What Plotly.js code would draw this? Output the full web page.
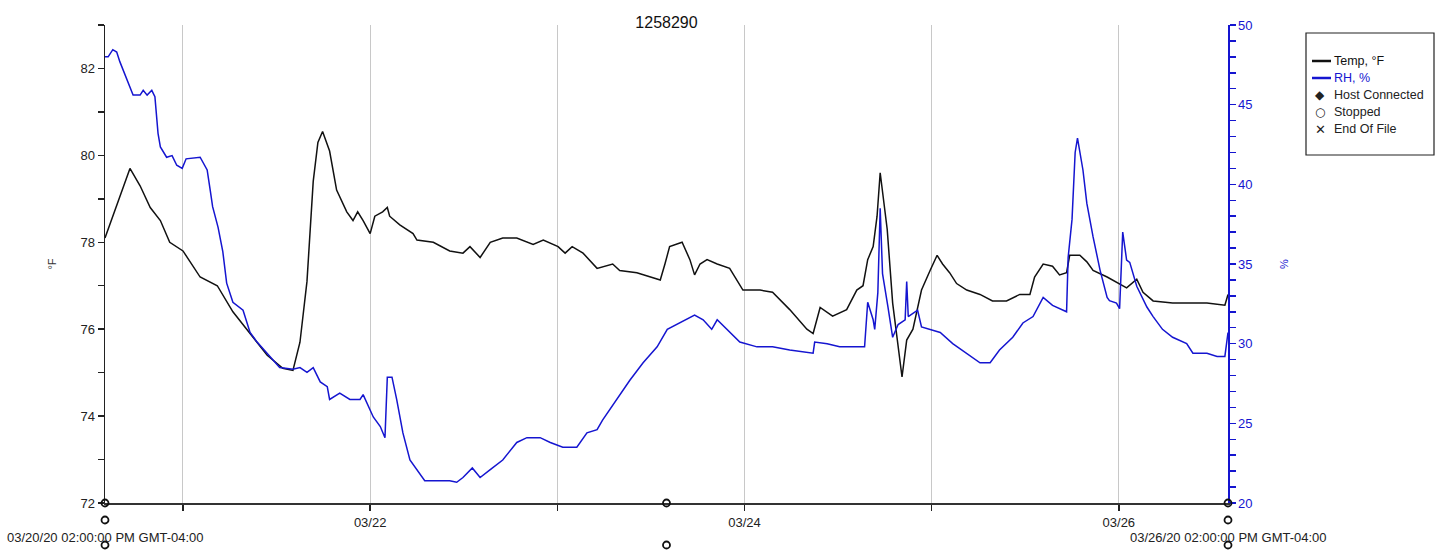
<!DOCTYPE html>
<html>
<head>
<meta charset="utf-8">
<script src="https://cdn.plot.ly/plotly-3.0.1.min.js"></script>
<style>html,body{margin:0;padding:0;background:#fff;}#chart{width:1440px;height:553px;}</style>
</head>
<body>
<div id="chart"></div>
<script>
// ---- data (hours since 03/20/20 02:00 PM) ----
const chartTitle = "1258290";
const startTime = "2020-03-20T14:00:00";
const spanHours = 144;

const tempHours = [0.0,3.2,4.5,5.8,7.1,8.3,10.0,12.2,14.4,16.4,18.6,20.8,22.8,24.1,25.0,25.9,26.7,27.3,27.9,28.8,29.7,31.0,31.8,32.4,33.1,34.0,34.6,35.6,36.2,36.5,37.8,39.5,40.0,42.1,44.2,45.9,46.8,48.1,49.4,51.0,52.8,54.9,56.2,58.1,59.0,59.9,61.3,63.1,65.1,66.0,68.2,69.9,71.2,71.8,72.4,74.0,75.0,75.6,76.3,77.2,78.5,80.1,81.0,81.8,84.0,85.6,87.8,90.0,90.8,91.7,93.3,95.1,96.4,97.2,97.8,98.5,99.0,99.4,100.3,101.0,102.2,102.8,103.6,104.7,105.8,106.7,107.4,108.3,109.2,110.5,112.2,113.8,115.6,117.3,118.6,119.2,120.3,121.5,122.4,123.3,123.7,125.0,125.9,126.7,128.5,130.1,131.0,132.3,133.1,134.4,136.9,139.5,141.3,143.6,144.0];
const tempValues = [78.1,79.7,79.3,78.8,78.5,78.0,77.8,77.2,77.0,76.4,75.9,75.4,75.1,75.05,75.7,77.1,79.4,80.3,80.55,80.1,79.2,78.7,78.5,78.7,78.5,78.2,78.6,78.7,78.8,78.6,78.4,78.2,78.05,78.0,77.8,77.75,77.9,77.65,78.0,78.1,78.1,77.95,78.05,77.9,77.75,77.9,77.75,77.4,77.5,77.35,77.3,77.2,77.13,77.5,77.9,78.0,77.6,77.25,77.5,77.6,77.5,77.4,77.15,76.9,76.9,76.85,76.45,76.0,75.9,76.5,76.3,76.45,76.9,77.0,77.6,77.9,78.6,79.6,78.3,76.6,74.9,75.75,76.0,76.9,77.35,77.7,77.5,77.3,77.05,76.9,76.8,76.65,76.65,76.8,76.8,77.2,77.5,77.45,77.25,77.3,77.7,77.7,77.55,77.35,77.2,77.05,76.95,77.15,76.85,76.65,76.6,76.6,76.6,76.55,76.8];

const rhHours = [0.0,0.4,1.0,1.5,1.9,2.8,3.6,4.5,4.9,5.4,6.0,6.4,6.8,7.1,7.9,8.6,9.2,9.9,10.4,12.2,13.1,13.5,13.8,14.5,15.1,15.6,16.4,17.7,18.6,19.5,20.8,22.4,24.1,25.0,25.9,26.7,27.6,28.5,28.8,30.1,31.4,32.7,33.1,33.6,34.4,35.3,35.9,36.2,36.8,37.4,38.2,39.1,40.0,41.0,42.6,44.2,45.1,45.9,47.1,48.1,49.4,51.0,52.8,54.1,55.8,57.1,58.7,60.5,61.8,63.1,63.8,65.6,67.3,69.0,70.8,72.1,73.3,74.1,75.6,76.7,77.8,78.5,80.1,81.4,83.6,85.6,87.8,90.8,91.0,92.6,94.2,97.4,97.8,98.5,98.7,99.1,99.4,99.7,100.4,101.0,101.7,102.6,102.8,103.0,103.6,104.2,104.7,105.8,107.1,108.7,110.5,112.2,113.5,114.7,116.4,117.7,119.0,120.3,121.5,122.8,123.3,123.5,124.0,124.4,124.7,125.4,125.9,126.7,127.6,128.5,128.8,129.7,130.1,130.5,131.0,131.4,132.3,133.6,134.4,135.6,136.9,138.7,139.5,141.3,142.6,143.6,144.0];
const rhValues = [48.0,48.0,48.45,48.3,47.7,46.55,45.6,45.6,45.9,45.6,45.9,45.5,43.2,42.35,41.7,41.8,41.2,41.0,41.6,41.7,40.9,39.6,38.6,37.3,35.8,33.8,32.6,32.1,30.7,30.1,29.4,28.5,28.4,28.5,28.2,28.5,27.6,27.3,26.5,26.9,26.5,26.5,26.8,26.3,25.4,24.8,24.1,27.9,27.9,26.5,24.4,22.7,22.1,21.4,21.4,21.4,21.3,21.6,22.2,21.6,22.1,22.7,23.8,24.1,24.1,23.8,23.5,23.5,24.4,24.6,25.2,26.5,27.7,28.8,29.8,30.9,31.2,31.4,31.8,31.5,30.9,31.5,30.7,30.1,29.8,29.8,29.6,29.4,30.1,30.0,29.8,29.8,32.6,31.5,30.9,33.2,38.5,34.4,32.3,30.4,31.2,31.5,33.9,31.7,31.9,32.1,31.05,30.9,30.7,30.0,29.4,28.8,28.8,29.6,30.4,31.3,31.7,32.9,32.4,32.1,32.0,35.4,37.8,42.0,42.9,40.9,38.8,36.7,34.6,32.9,32.7,32.55,32.2,37.0,35.25,35.1,33.6,32.3,31.7,30.9,30.4,30.0,29.4,29.4,29.2,29.2,30.7];

// logger events (hours since start) and the row they are drawn in
const eventHours = [0, 0, 0, 72, 72, 144, 144, 144];
const eventRows  = [0, 1, 2, 0, 2, 0, 1, 2];

const dayTickHours = [10, 34, 58, 82, 106, 130];
const dayTickText  = ["", "03/22", "", "03/24", "", "03/26"];
const startLabel = "03/20/20 02:00:00 PM GMT-04:00";
const endLabel   = "03/26/20 02:00:00 PM GMT-04:00";

const legendItems = [
  {kind: "line", color: "#111111", text: "Temp, °F", textColor: "#111111"},
  {kind: "line", color: "#1515d0", text: "RH, %", textColor: "#1515d0"},
  {kind: "glyph", glyph: "◆", text: "Host Connected", textColor: "#222222"},
  {kind: "glyph", glyph: "○", text: "Stopped", textColor: "#222222"},
  {kind: "glyph", glyph: "✕", text: "End Of File", textColor: "#222222"}
];

// ---- helpers ----
const t0 = Date.parse(startTime + "Z");
function toDate(h) {
  const d = new Date(t0 + h * 3600000);
  const p = n => String(n).padStart(2, "0");
  return d.getUTCFullYear() + "-" + p(d.getUTCMonth() + 1) + "-" + p(d.getUTCDate()) + " " +
         p(d.getUTCHours()) + ":" + p(d.getUTCMinutes()) + ":" + p(d.getUTCSeconds());
}

const FONT = "Liberation Sans, Arial, sans-serif";
const BLUE = "#1515d0";
const PW = 1123, PH = 478;
const rowOffsetPx = [0, 17, 42];   // pixel offset below the x axis for each event row

const traces = [
  {
    x: tempHours.map(toDate), y: tempValues, type: "scatter", mode: "lines",
    name: "Temp, °F", line: {color: "#111111", width: 1.5}, yaxis: "y", hoverinfo: "skip"
  },
  {
    x: rhHours.map(toDate), y: rhValues, type: "scatter", mode: "lines",
    name: "RH, %", line: {color: BLUE, width: 1.5}, yaxis: "y2", hoverinfo: "skip"
  }
];

const shapes = [];
const annotations = [];
const px = x => (x - 105) / PW;
const py = y => (503 - y) / PH;

// event markers (open circles) placed along the time span (paper fraction of the time range)
eventHours.forEach((h, i) => {
  const off = rowOffsetPx[eventRows[i]];
  shapes.push({type: "circle", xref: "paper", yref: "paper", xsizemode: "pixel", ysizemode: "pixel",
    xanchor: h / spanHours, yanchor: 0, x0: -3.5, x1: 3.5, y0: -off - 3.5, y1: -off + 3.5,
    line: {color: "#111111", width: 1.8}, fillcolor: "rgba(0,0,0,0)", layer: "above"});
});

// legend built with shapes/annotations
shapes.push({type: "rect", xref: "paper", yref: "paper", x0: px(1306), x1: px(1434), y0: py(155), y1: py(33),
  line: {color: "#222222", width: 1.2}, fillcolor: "#ffffff", layer: "above"});
legendItems.forEach((it, i) => {
  const yy = 61 + i * 17;
  if (it.kind === "line") {
    shapes.push({type: "line", xref: "paper", yref: "paper", x0: px(1312), x1: px(1331), y0: py(yy), y1: py(yy),
      line: {color: it.color, width: 2.5}, layer: "above"});
  } else {
    annotations.push({xref: "paper", yref: "paper", x: px(1320), y: py(yy), text: it.glyph, showarrow: false,
      xanchor: "center", yanchor: "middle", font: {family: "DejaVu Sans", size: it.glyph === "✕" ? 13 : 12, color: "#222222"}});
  }
  annotations.push({xref: "paper", yref: "paper", x: px(1332), y: py(yy), text: it.text, showarrow: false,
    xanchor: "left", yanchor: "middle", font: {family: FONT, size: 12.5, color: it.textColor}});
});

annotations.push({xref: "x", yref: "paper", x: toDate(0), y: 0, yshift: -34, text: startLabel, showarrow: false,
  xanchor: "center", yanchor: "middle", font: {family: FONT, size: 13, color: "#222222"}});
annotations.push({xref: "x", yref: "paper", x: toDate(spanHours), y: 0, yshift: -34, text: endLabel, showarrow: false,
  xanchor: "center", yanchor: "middle", font: {family: FONT, size: 13, color: "#222222"}});

const layout = {
  width: 1440, height: 553,
  margin: {l: 105, r: 212, t: 25, b: 50, pad: 0},
  paper_bgcolor: "#ffffff", plot_bgcolor: "#ffffff",
  showlegend: false,
  font: {family: FONT, size: 13, color: "#222222"},
  title: {text: chartTitle, x: 0.5, xref: "paper", y: 0.97, yref: "container", xanchor: "center",
    font: {family: FONT, size: 16, color: "#111111"}},
  xaxis: {
    type: "date", range: [toDate(0), toDate(spanHours)],
    tickmode: "array", tickvals: dayTickHours.map(toDate), ticktext: dayTickText,
    ticks: "outside", ticklen: 6, tickwidth: 1.5, tickcolor: "#222222",
    showgrid: true, gridcolor: "#c8c8c8", gridwidth: 1,
    showline: true, linecolor: "#333333", linewidth: 2,
    zeroline: false, fixedrange: true,
    tickfont: {family: FONT, size: 13, color: "#222222"}
  },
  yaxis: {
    range: [72, 83], tick0: 72, dtick: 2, ticks: "outside", ticklen: 6, tickwidth: 1.5, tickcolor: "#222222",
    minor: {dtick: 1, tick0: 72, ticks: "outside", ticklen: 6, tickwidth: 1.5, tickcolor: "#222222", showgrid: false},
    showgrid: false, zeroline: false, showline: true, linecolor: "#222222", linewidth: 1.5,
    tickfont: {family: FONT, size: 13, color: "#222222"},
    title: {text: "°F", standoff: 21, font: {family: FONT, size: 11, color: "#333333"}},
    fixedrange: true
  },
  yaxis2: {
    overlaying: "y", side: "right", anchor: "x",
    range: [20, 50], tick0: 20, dtick: 5, ticks: "outside", ticklen: 6, tickwidth: 1.5, tickcolor: BLUE,
    minor: {dtick: 1, tick0: 20, ticks: "outside", ticklen: 6, tickwidth: 1.5, tickcolor: BLUE, showgrid: false},
    showgrid: false, zeroline: false, showline: true, linecolor: BLUE, linewidth: 1.5,
    tickfont: {family: FONT, size: 13, color: BLUE},
    title: {text: "%", standoff: 28, font: {family: FONT, size: 11, color: BLUE}},
    fixedrange: true
  },
  shapes: shapes,
  annotations: annotations
};

Plotly.newPlot("chart", traces, layout, {displayModeBar: false, staticPlot: true});
</script>
</body>
</html>
